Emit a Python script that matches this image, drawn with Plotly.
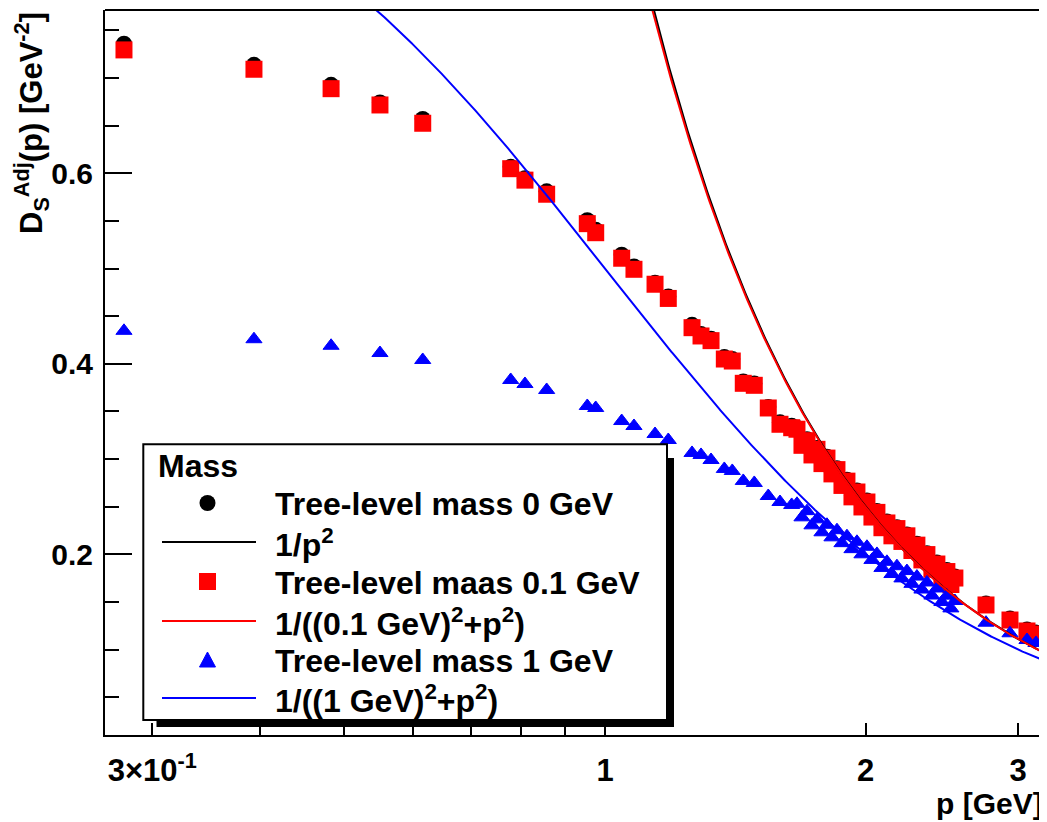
import numpy as np
import plotly.graph_objects as go

# ---------------- data ----------------
p_values = [0.2783, 0.3932, 0.4827, 0.5497, 0.6159, 0.7782, 0.8083, 0.8563, 0.9540, 0.9756,
            1.0454, 1.0801, 1.1423, 1.1833, 1.2604, 1.2909, 1.3257, 1.3734, 1.4028, 1.4444,
            1.4873, 1.5437, 1.5925, 1.6428,
            1.6661, 1.6884, 1.7110, 1.7339, 1.7571, 1.7806, 1.8044, 1.8285, 1.8530, 1.8778,
            1.9029, 1.9284, 1.9541, 1.9803, 2.0068, 2.0336, 2.0608, 2.0884, 2.1163, 2.1446,
            2.1733, 2.2024, 2.2318, 2.2617, 2.2919, 2.3226, 2.3537, 2.3851, 2.4170, 2.4494,
            2.4821, 2.5087, 2.5355,
            2.7542, 2.9355, 3.0713, 3.1456]

mass0_values = [0.7360, 0.7138, 0.6928, 0.6744, 0.6570, 0.6068, 0.5948, 0.5810, 0.5508, 0.5406,
                0.5145, 0.5022, 0.4850, 0.4706, 0.4409, 0.4312, 0.4263, 0.4070, 0.4049, 0.3815,
                0.3794, 0.3546, 0.3385, 0.3349,
                0.3328, 0.3159, 0.3208, 0.3058, 0.3117, 0.2967, 0.3025, 0.2859, 0.2904, 0.2738,
                0.2783, 0.2618, 0.2669, 0.2512, 0.2564, 0.2406, 0.2455, 0.2294, 0.2344, 0.2209,
                0.2285, 0.2150, 0.2209, 0.2055, 0.2111, 0.1956, 0.2012, 0.1858, 0.1913, 0.1768,
                0.1834, 0.1698, 0.1766,
                0.1483, 0.1325, 0.1210, 0.1178]

mass01_values = [0.7295, 0.7092, 0.6888, 0.6717, 0.6525, 0.6048, 0.5928, 0.5780, 0.5471, 0.5376,
                 0.5108, 0.4992, 0.4835, 0.4686, 0.4379, 0.4292, 0.4243, 0.4050, 0.4029, 0.3795,
                 0.3774, 0.3536, 0.3365, 0.3329,
                 0.3313, 0.3144, 0.3193, 0.3043, 0.3102, 0.2952, 0.3010, 0.2844, 0.2889, 0.2723,
                 0.2768, 0.2603, 0.2654, 0.2497, 0.2549, 0.2391, 0.2440, 0.2279, 0.2329, 0.2194,
                 0.2270, 0.2135, 0.2194, 0.2040, 0.2096, 0.1941, 0.1997, 0.1843, 0.1898, 0.1753,
                 0.1819, 0.1683, 0.1751,
                 0.1468, 0.1310, 0.1195, 0.1163]

mass1_values = [0.4346, 0.4258, 0.4189, 0.4113, 0.4040, 0.3830, 0.3788, 0.3725, 0.3557, 0.3536,
                0.3399, 0.3347, 0.3263, 0.3200, 0.3064, 0.3043, 0.2990, 0.2896, 0.2875, 0.2770,
                0.2749, 0.2612, 0.2549, 0.2518,
                0.2530, 0.2388, 0.2453, 0.2304, 0.2367, 0.2231, 0.2310, 0.2178, 0.2253, 0.2117,
                0.2190, 0.2054, 0.2131, 0.2000, 0.2079, 0.1941, 0.2004, 0.1857, 0.1921, 0.1793,
                0.1875, 0.1747, 0.1824, 0.1690, 0.1766, 0.1630, 0.1704, 0.1567, 0.1641, 0.1499,
                0.1566, 0.1432, 0.1510,
                0.1282, 0.1171, 0.1100, 0.1069]

curve_masses = [0.0, 0.1, 1.0]          # GeV, the curves 1/(m^2 + p^2)
curve_colors = ["#000000", "#ff0000", "#0000ff"]

legend_title = "Mass"
legend_labels = ["Tree-level mass 0 GeV", "1/p<sup>2</sup>", "Tree-level maas 0.1 GeV",
                 "1/((0.1 GeV)<sup>2</sup>+p<sup>2</sup>)", "Tree-level mass 1 GeV",
                 "1/((1 GeV)<sup>2</sup>+p<sup>2</sup>)"]

x_tickvals = [0.3, 1, 2, 3]
x_ticktext = ["3×10<sup>-1</sup>", "1", "2", "3"]
x_minor_tickvals = [0.4, 0.5, 0.6, 0.7, 0.8, 0.9]
y_tickvals = [0.2, 0.4, 0.6]
y_ticktext = ["0.2", "0.4", "0.6"]
y_minor_tickvals = [0.05, 0.1, 0.15, 0.25, 0.3, 0.35, 0.45, 0.5, 0.55, 0.65, 0.7, 0.75]

# ---------------- layout geometry ----------------
# the page body has an 8px margin, so the figure is drawn 8px right/down
OFF = 8
W, H = 1047 - OFF, 822 - OFF
L, R, T, B = 105 - OFF, 0, 10 - OFF, 87
PW, PH = W - L - R, H - T - B
FONT = "Liberation Sans, Arial, sans-serif"


def px(xs):
    # screen x (pixels) -> paper
    return (xs - OFF - L) / PW


def py(ys):
    # screen y (pixels) -> paper
    return (T + PH - (ys - OFF)) / PH


fig = go.Figure()

fig.add_trace(go.Scatter(x=p_values, y=mass0_values, mode="markers",
                         marker=dict(symbol="circle", size=16, color="#000000"),
                         showlegend=False))
fig.add_trace(go.Scatter(x=p_values, y=mass01_values, mode="markers",
                         marker=dict(symbol="square", size=17, color="#ff0000"),
                         showlegend=False))
fig.add_trace(go.Scatter(x=p_values, y=mass1_values, mode="markers",
                         marker=dict(symbol="triangle-up", size=14, color="#0000ff",
                                     line=dict(color="#0000ff", width=1)),
                         showlegend=False))

p_curve = np.geomspace(0.26, 3.3, 700)
for m, c in zip(curve_masses, curve_colors):
    fig.add_trace(go.Scatter(x=p_curve, y=1.0 / (m ** 2 + p_curve ** 2), mode="lines",
                             line=dict(color=c, width=2), showlegend=False))

# ---------------- hand-drawn ROOT style legend ----------------
shapes = []
annotations = []
shapes.append(dict(type="rect", xref="paper", yref="paper", layer="above",
                   x0=px(156.5), x1=px(674), y0=py(727), y1=py(458),
                   fillcolor="#000000", line=dict(width=0)))
shapes.append(dict(type="rect", xref="paper", yref="paper", layer="above",
                   x0=px(143.3), x1=px(667), y0=py(720), y1=py(444.3),
                   fillcolor="#ffffff", line=dict(color="#000000", width=2)))
row_y = [503, 542, 581.5, 621, 660, 698]
mx = 207.5
shapes.append(dict(type="circle", xref="paper", yref="paper", layer="above",
                   x0=px(mx - 8), x1=px(mx + 8), y0=py(row_y[0] + 8), y1=py(row_y[0] - 8),
                   fillcolor="#000000", line=dict(width=0)))
shapes.append(dict(type="rect", xref="paper", yref="paper", layer="above",
                   x0=px(mx - 8.5), x1=px(mx + 8.5), y0=py(row_y[2] + 8.5), y1=py(row_y[2] - 8.5),
                   fillcolor="#ff0000", line=dict(width=0)))
ty = row_y[4]
tri = "M {:.5f},{:.5f} L {:.5f},{:.5f} L {:.5f},{:.5f} Z".format(
    px(mx - 8), py(ty + 7), px(mx + 8), py(ty + 7), px(mx), py(ty - 8))
shapes.append(dict(type="path", xref="paper", yref="paper", layer="above", path=tri,
                   fillcolor="#0000ff", line=dict(color="#0000ff", width=1)))
for yy, c in zip([row_y[1], row_y[3], row_y[5]], curve_colors):
    shapes.append(dict(type="line", xref="paper", yref="paper", layer="above",
                       x0=px(162), x1=px(256), y0=py(yy), y1=py(yy),
                       line=dict(color=c, width=2)))

annotations.append(dict(text=legend_title, xref="paper", yref="paper", x=px(156), y=py(466),
                        xanchor="left", yanchor="middle", showarrow=False,
                        font=dict(family=FONT, size=32, color="#000000", weight="bold")))
for yy, lab in zip(row_y, legend_labels):
    annotations.append(dict(text=lab, xref="paper", yref="paper", x=px(273), y=py(yy + 1),
                            xanchor="left", yanchor="middle", showarrow=False,
                            font=dict(family=FONT, size=32, color="#000000", weight="bold")))

annotations.append(dict(text="p [GeV]", xref="paper", yref="paper", x=px(1045), y=py(803),
                        xanchor="right", yanchor="middle", showarrow=False,
                        font=dict(family=FONT, size=30, color="#000000", weight="bold")))
annotations.append(dict(text="D<sub>S</sub><sup>Adj</sup>(p) [GeV<sup>-2</sup>]",
                        xref="paper", yref="paper", x=px(31), y=py(10), textangle=-90,
                        xanchor="center", yanchor="top", showarrow=False,
                        font=dict(family=FONT, size=31, color="#000000", weight="bold")))

shapes.append(dict(type="line", xref="paper", yref="paper", x0=0, x1=1, y0=1, y1=1,
                   line=dict(color="#000000", width=2)))

fig.update_layout(
    width=W, height=H,
    margin=dict(l=L, r=R, t=T, b=B, autoexpand=False),
    paper_bgcolor="#ffffff", plot_bgcolor="#ffffff",
    shapes=shapes, annotations=annotations,
    showlegend=False,
    xaxis=dict(type="log", range=[np.log10(0.2646), np.log10(3.2392)],
               showgrid=False, zeroline=False, showline=True, linecolor="#000000",
               linewidth=2, mirror=False, ticks="inside", ticklen=12, tickwidth=2,
               tickcolor="#000000", tickvals=x_tickvals, ticktext=x_ticktext,
               ticklabelstandoff=7, automargin=False,
               minor=dict(ticks="inside", ticklen=12, tickwidth=2, tickcolor="#000000",
                          tickvals=x_minor_tickvals, showgrid=False),
               tickfont=dict(family=FONT, size=31, color="#000000", weight="bold")),
    yaxis=dict(range=[0.0103, 0.7714], showgrid=False, zeroline=False, showline=True,
               linecolor="#000000", linewidth=2, mirror=False, ticks="inside",
               ticklen=27, tickwidth=2, tickcolor="#000000",
               tickvals=y_tickvals, ticktext=y_ticktext, ticklabelstandoff=4,
               automargin=False,
               minor=dict(ticks="inside", ticklen=14, tickwidth=2, tickcolor="#000000",
                          tickvals=y_minor_tickvals, showgrid=False),
               tickfont=dict(family=FONT, size=30, color="#000000", weight="bold")),
)

fig.write_html("out.html")
